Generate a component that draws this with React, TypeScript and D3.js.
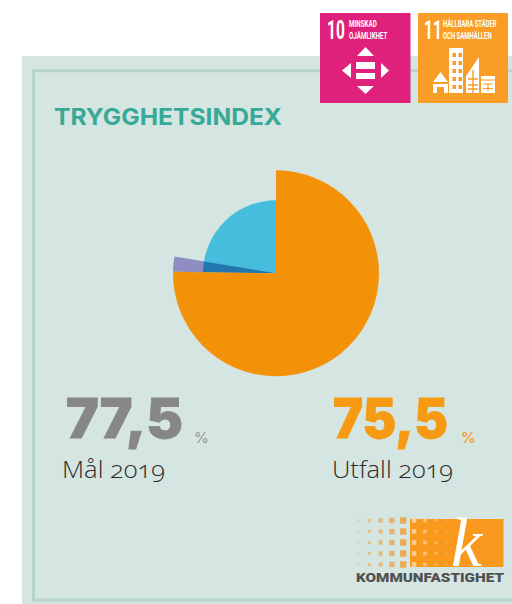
import React from "react";
import * as d3 from "d3";

const outerCategories = ["Utfall", "Mål-del"];
const outerValues = [75.25, 2.35];
const innerValues = [2.35, 22.4];
const title = "TRYGGHETSINDEX";
const goalValue = "77,5";
const goalLabel = "Mål 2019";
const outcomeValue = "75,5";
const outcomeLabel = "Utfall 2019";
const logoName = "KOMMUNFASTIGHET";

const ORANGE = "#f39208";
const TOTAL = 100;
const angle = d3.scaleLinear().domain([0, TOTAL]).range([0, 2 * Math.PI]);
const arcGen = d3.arc<any>();

function sector(start: number, end: number, r: number) {
  return arcGen({ innerRadius: 0, outerRadius: r, startAngle: angle(start), endAngle: angle(end) }) as string;
}

const NUM = "'Inter','Lato',sans-serif";
const LAB = "'Open Sans','Lato',sans-serif";
const COND = "Roboto,sans-serif";

function Squeezed({ x, y, sx, size, children }: { x: number; y: number; sx: number; size: number; children: string }) {
  return (
    <text transform={`translate(${x},${y}) scale(${sx},1)`} fontFamily={COND} fontWeight={700} fontSize={size} fill="#fff">
      {children}
    </text>
  );
}

function Sdg10() {
  return (
    <g transform="translate(320,13)">
      <rect width={90.5} height={90} fill="#e0217c" />
      <Squeezed x={7} y={26} sx={0.62} size={25}>10</Squeezed>
      <Squeezed x={29} y={14} sx={0.66} size={9.5}>MINSKAD</Squeezed>
      <Squeezed x={29} y={26} sx={0.66} size={9.5}>OJÄMLIKHET</Squeezed>
      <path d="M37 43 L54 43 L45.5 34 Z M37 73 L54 73 L45.5 81 Z M31 50 L31 65 L22 57.5 Z M61 50 L61 65 L69 57.5 Z" fill="#fff" />
      <rect x={36} y={49} width={19} height={7} fill="#fff" />
      <rect x={36} y={60} width={19} height={6} fill="#fff" />
    </g>
  );
}

function Sdg11() {
  const windows: React.ReactNode[] = [];
  for (let r = 0; r < 5; r++)
    for (let c = 0; c < 2; c++)
      windows.push(<rect key={`${r}-${c}`} x={34.5 + c * 6} y={40 + r * 8} width={3.5} height={4} fill="#f99d26" />);
  return (
    <g transform="translate(418,13)">
      <rect width={90} height={90} fill="#f99d26" />
      <Squeezed x={6} y={26} sx={0.62} size={25}>11</Squeezed>
      <Squeezed x={25} y={14} sx={0.66} size={9}>HÅLLBARA STÄDER</Squeezed>
      <Squeezed x={25} y={26} sx={0.66} size={9}>OCH SAMHÄLLEN</Squeezed>
      <path d="M15 69 L22.5 59 L30 69 Z M15 71 H30 V80 H26 V74 H19 V80 H15 Z" fill="#fff" />
      <rect x={31} y={35} width={14} height={45} fill="#fff" />
      {windows}
      <path d="M48 80 V63 L61 44 V80 Z" fill="#fff" />
      <path d="M50 66 H60 M50 72 H60 M50 76 H60 M55 57 V80" stroke="#f99d26" strokeWidth={1.4} />
      <rect x={63} y={63} width={14} height={17} fill="#fff" />
      <path d="M63 67 H77 M65 71 H75 M65 75.5 H75 M70 70 V78" stroke="#f99d26" strokeWidth={1.2} />
    </g>
  );
}

function Logo() {
  const rows = d3.range(5);
  const dark: React.ReactNode[] = [];
  rows.forEach((r) =>
    d3.range(5).forEach((c) => {
      const s = 2 + c * 1.1;
      dark.push(
        <rect key={`d${r}-${c}`} x={358 + c * 11.3 - s / 2} y={520.5 + r * 11 - s / 2} width={s} height={s} fill="#e8a850" opacity={0.45 + c * 0.12} />
      );
    })
  );
  const light: React.ReactNode[] = [];
  rows.forEach((r) =>
    d3.range(4).forEach((c) => {
      const s = 4.5 - c * 1;
      light.push(
        <rect key={`l${r}-${c}`} x={414 + c * 11 - s / 2} y={520.5 + r * 11 - s / 2} width={s} height={s} fill="#f8d9a8" opacity={0.85 - c * 0.15} />
      );
    })
  );
  return (
    <g>
      <rect x={410} y={519} width={93.5} height={48} fill="#f9991e" />
      {dark}
      {light}
      <text x={451} y={566} fontFamily="'Liberation Serif',serif" fontStyle="italic" fontSize={70} fill="#fff">k</text>
      <text transform="translate(356,582)" fontFamily={COND} fontWeight={900} fontSize={13} fill="#505050" textLength={148} lengthAdjust="spacingAndGlyphs">{logoName}</text>
    </g>
  );
}

export default function App() {
  const cx = 276;
  const cy = 273.3;
  const R = 103;
  const r = 73;
  const outerEnd = outerValues[0];
  const overlapEnd = outerEnd + innerValues[0];
  const innerEnd = overlapEnd + innerValues[1];
  const labelFeat = { fontFeatureSettings: "'onum'", fontVariantNumeric: "oldstyle-nums" } as React.CSSProperties;
  return (
    <svg width={512} height={604} style={{ position: "absolute", left: 0, top: 0 }} aria-label={outerCategories.join(", ")}>
      <rect width={512} height={604} fill="#fff" />
      <rect x={22} y={56} width={490} height={548} fill="#d5e5e1" />
      <path d="M512 70.8 H33.5 V600 H512" fill="none" stroke="#b6d4cb" strokeWidth={3} />
      <Sdg10 />
      <Sdg11 />
      <text x={54} y={125} fontFamily="'Inter',sans-serif" fontWeight={700} fontSize={23} fill="#37a996" textLength={228} lengthAdjust="spacingAndGlyphs">{title}</text>

      <g transform={`translate(${cx},${cy})`}>
        <path d={sector(outerEnd, overlapEnd, R)} fill="#8f8bc3" />
        <path d={sector(outerEnd, innerEnd, r)} fill="#46bddc" />
        <path d={sector(outerEnd, overlapEnd, r)} fill="#2177ae" />
        <path d={sector(0, outerEnd, R)} fill={ORANGE} />
      </g>

      <text x={66} y={438} fontFamily={NUM} fontWeight={900} fontSize={55} fill="#878786" stroke="#878786" strokeWidth={0.8} textLength={117} lengthAdjust="spacingAndGlyphs">{goalValue}</text>
      <text x={194} y={443} fontFamily={NUM} fontWeight={500} fontSize={15} fill="#9a9a99">%</text>
      <text x={62} y={478} fontFamily={LAB} fontWeight={300} fontSize={23} fill="#2b2b2b" style={labelFeat} textLength={103} lengthAdjust="spacingAndGlyphs">{goalLabel}</text>

      <text x={333} y={438} fontFamily={NUM} fontWeight={900} fontSize={55} fill="#f59a12" stroke="#f59a12" strokeWidth={0.8} textLength={115} lengthAdjust="spacingAndGlyphs">{outcomeValue}</text>
      <text x={461} y={443} fontFamily={NUM} fontWeight={500} fontSize={15} fill="#f59a12">%</text>
      <text x={332} y={478} fontFamily={LAB} fontWeight={300} fontSize={23} fill="#2b2b2b" style={labelFeat} textLength={121} lengthAdjust="spacingAndGlyphs">{outcomeLabel}</text>

      <Logo />
    </svg>
  );
}
